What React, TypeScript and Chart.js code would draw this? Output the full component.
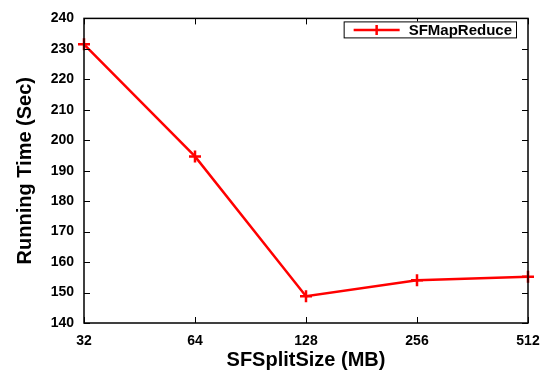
import React, { useEffect, useRef } from "react";
import { Chart, registerables } from "chart.js";

Chart.register(...registerables);

const categories = ["32", "64", "128", "256", "512"];
const runningTime = [231.5, 194.7, 148.8, 154.0, 155.2];
const seriesLabel = "SFMapReduce";
const yMin = 140;
const yMax = 240;
const yStep = 10;

const FONT = "'Liberation Sans', Arial, Helvetica, sans-serif";

const frameAndTicks = {
  id: "frameAndTicks",
  afterDatasetsDraw(chart: any) {
    const { ctx, chartArea } = chart;
    const { left, right, top, bottom } = chartArea;
    const len = 6;
    ctx.save();
    ctx.strokeStyle = "#000";
    ctx.lineWidth = 1;
    const x = chart.scales.x;
    const y = chart.scales.y;
    ctx.beginPath();
    x.ticks.forEach((_: any, i: number) => {
      const px = Math.round(x.getPixelForTick(i)) + 0.5;
      ctx.moveTo(px, bottom);
      ctx.lineTo(px, bottom - len);
      ctx.moveTo(px, top);
      ctx.lineTo(px, top + len);
    });
    y.ticks.forEach((_: any, i: number) => {
      const py = Math.round(y.getPixelForTick(i)) + 0.5;
      ctx.moveTo(left, py);
      ctx.lineTo(left + len, py);
      ctx.moveTo(right, py);
      ctx.lineTo(right - len, py);
    });
    ctx.stroke();
    ctx.lineWidth = 1.5;
    ctx.strokeRect(left, top, right - left, bottom - top);
    ctx.restore();
  },
};

const boxedLegend = {
  id: "boxedLegend",
  afterDraw(chart: any) {
    const { ctx, chartArea } = chart;
    const ds = chart.data.datasets[0];
    ctx.save();
    ctx.font = `bold 15px ${FONT}`;
    const tw = ctx.measureText(ds.label).width;
    const boxRight = chartArea.right - 12;
    const boxTop = chartArea.top + 3;
    const boxH = 16;
    const lineW = 46;
    const boxW = 10 + lineW + 9 + tw + 4;
    const boxLeft = boxRight - boxW;
    ctx.fillStyle = "#fff";
    ctx.fillRect(boxLeft, boxTop, boxW, boxH);
    ctx.strokeStyle = "#000";
    ctx.lineWidth = 1;
    ctx.strokeRect(boxLeft + 0.5, boxTop + 0.5, boxW, boxH);
    const cy = boxTop + boxH / 2 + 0.5;
    const lx0 = boxLeft + 10;
    const lx1 = lx0 + lineW;
    ctx.strokeStyle = ds.borderColor;
    ctx.lineWidth = ds.borderWidth;
    ctx.beginPath();
    ctx.moveTo(lx0, cy);
    ctx.lineTo(lx1, cy);
    const cx = (lx0 + lx1) / 2;
    ctx.moveTo(cx, cy - 5);
    ctx.lineTo(cx, cy + 5);
    ctx.stroke();
    ctx.fillStyle = "#000";
    ctx.textBaseline = "middle";
    ctx.textAlign = "left";
    ctx.fillText(ds.label, lx1 + 9, cy + 1);
    ctx.restore();
  },
};

export default function App() {
  const ref = useRef<HTMLCanvasElement | null>(null);
  useEffect(() => {
    if (!ref.current) return;
    const chart = new Chart(ref.current, {
      type: "line",
      data: {
        labels: categories,
        datasets: [
          {
            label: seriesLabel,
            data: runningTime,
            borderColor: "#ff0000",
            backgroundColor: "#ff0000",
            borderWidth: 2.5,
            pointStyle: "cross",
            pointRadius: 6,
            pointBorderWidth: 2.5,
            pointHoverRadius: 6,
            tension: 0,
            clip: false as any,
          },
        ],
      },
      options: {
        animation: false,
        responsive: false,
        maintainAspectRatio: false,
        events: [],
        layout: { padding: { top: 9, right: 24, left: 0, bottom: 0 } },
        plugins: {
          legend: { display: false },
          tooltip: { enabled: false },
        },
        scales: {
          x: {
            type: "category",
            offset: false,
            grid: { display: false, drawTicks: false },
            border: { display: false },
            ticks: {
              color: "#000",
              padding: 10,
              maxRotation: 0,
              font: { family: FONT, size: 14, weight: "bold" },
            },
            title: {
              display: true,
              text: "SFSplitSize (MB)",
              color: "#000",
              padding: { top: 0, bottom: 2 },
              font: { family: FONT, size: 20, weight: "bold" },
            },
            afterFit(scale: any) {
              scale.height = 51;
            },
          },
          y: {
            min: yMin,
            max: yMax,
            grid: { display: false, drawTicks: false },
            border: { display: false },
            ticks: {
              stepSize: yStep,
              color: "#000",
              padding: 10,
              font: { family: FONT, size: 14, weight: "bold" },
            },
            title: {
              display: true,
              text: "Running Time (Sec)",
              color: "#000",
              padding: { top: 13, bottom: 0 },
              font: { family: FONT, size: 20, weight: "bold" },
            },
            afterFit(scale: any) {
              scale.width = 84;
            },
          },
        },
      },
      plugins: [frameAndTicks, boxedLegend],
    });
    return () => chart.destroy();
  }, []);
  return (
    <div style={{ position: "absolute", left: 0, top: 0, width: 552, height: 374, background: "#fff" }}>
      <canvas ref={ref} width={552} height={374} style={{ display: "block", width: 552, height: 374 }} />
    </div>
  );
}
